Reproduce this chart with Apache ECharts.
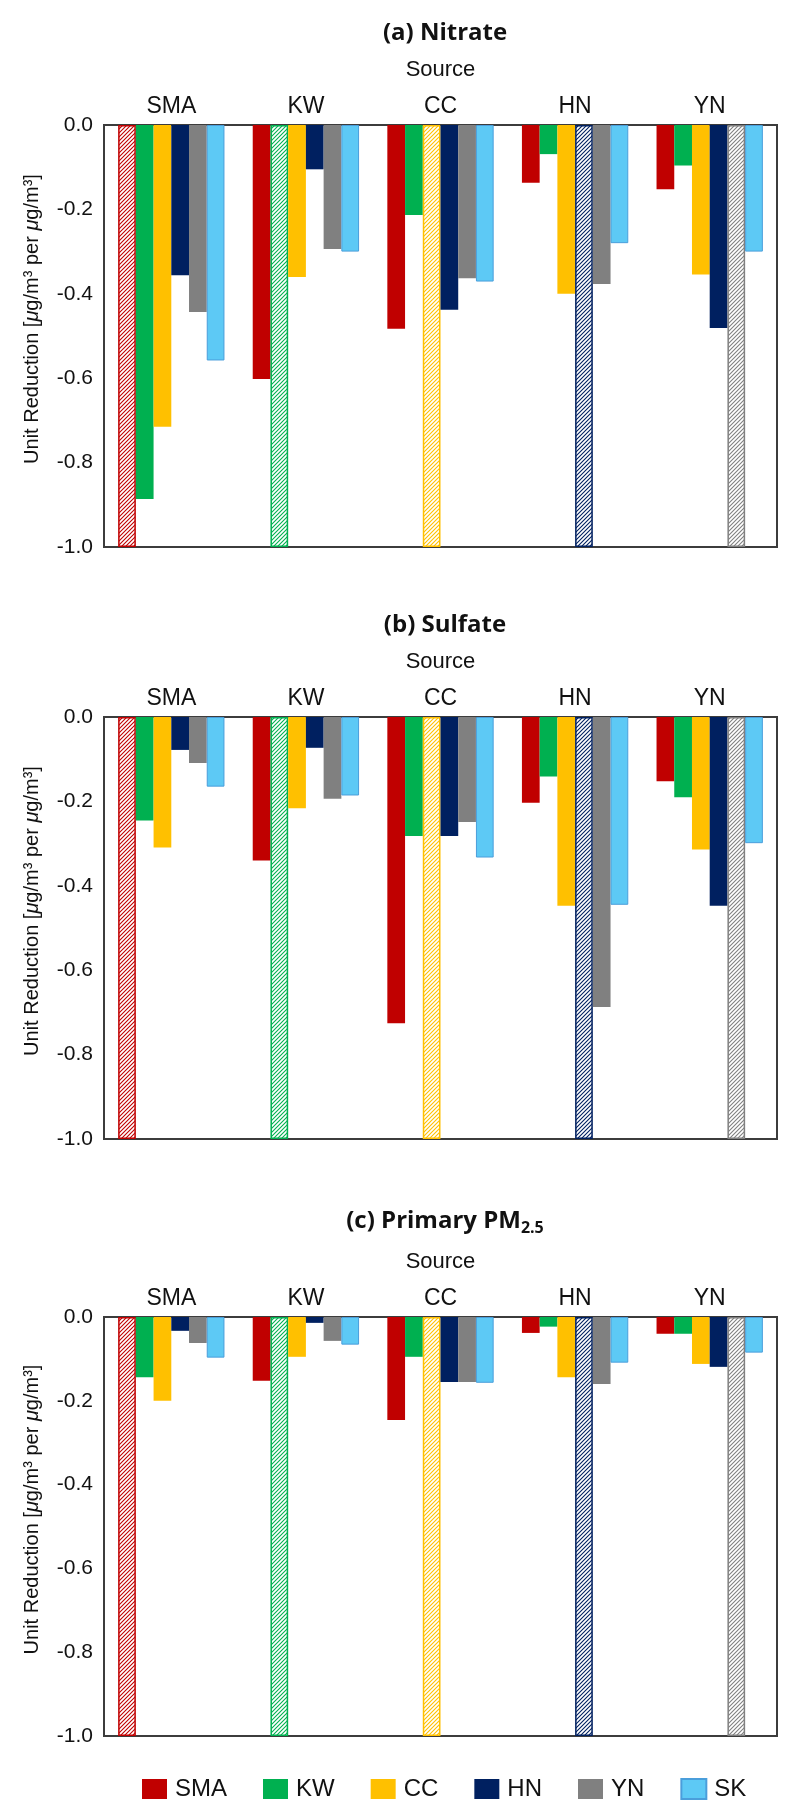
<!DOCTYPE html>
<html>
<head>
<meta charset="utf-8">
<script src="https://cdn.jsdelivr.net/npm/echarts@6/dist/echarts.min.js"></script>
<style>
  html, body { margin: 0; padding: 0; background: #fff; }
  #main { width: 800px; height: 1816px; }
</style>
</head>
<body>
<div id="main"></div>
<script>
// receptor regions (x categories) and source regions (series)
var categories = ['SMA', 'KW', 'CC', 'HN', 'YN'];
var sources = ['SMA', 'KW', 'CC', 'HN', 'YN', 'SK'];
var colors = ['#C00000', '#00B050', '#FFC000', '#002060', '#808080', '#5DC9F5'];
var yTicks = [0, -0.2, -0.4, -0.6, -0.8, -1.0];

// one row per source, values across categories
var nitrate = [
  [-1, -0.602, -0.483, -0.137, -0.152],
  [-0.886, -1, -0.213, -0.069, -0.096],
  [-0.715, -0.360, -1, -0.400, -0.354],
  [-0.356, -0.105, -0.438, -1, -0.481],
  [-0.443, -0.294, -0.363, -0.377, -1],
  [-0.558, -0.300, -0.371, -0.280, -0.300]
];
var sulfate = [
  [-1, -0.340, -0.726, -0.203, -0.152],
  [-0.245, -1, -0.282, -0.141, -0.190],
  [-0.309, -0.216, -1, -0.447, -0.314],
  [-0.078, -0.073, -0.282, -1, -0.447],
  [-0.109, -0.194, -0.249, -0.687, -1],
  [-0.165, -0.186, -0.333, -0.445, -0.299]
];
var primary = [
  [-1, -0.152, -0.246, -0.038, -0.040],
  [-0.144, -1, -0.095, -0.023, -0.040],
  [-0.200, -0.095, -1, -0.144, -0.112],
  [-0.033, -0.014, -0.155, -1, -0.119],
  [-0.062, -0.057, -0.155, -0.160, -1],
  [-0.097, -0.066, -0.157, -0.109, -0.085]
];

var panels = [
  { title: '(a) Nitrate', data: nitrate, top: 125, height: 422, titleTop: 16 },
  { title: '(b) Sulfate', data: sulfate, top: 717, height: 422, titleTop: 608 },
  { title: '{b|(c) Primary PM}{s|2.5}', data: primary, top: 1317, height: 419, titleTop: 1201 }
];

function makeHatch(color) {
  var c = document.createElement('canvas');
  c.width = 4; c.height = 4;
  var ctx = c.getContext('2d');
  ctx.fillStyle = '#fff';
  ctx.fillRect(0, 0, 4, 4);
  ctx.strokeStyle = color;
  ctx.lineWidth = 1.1;
  ctx.beginPath();
  ctx.moveTo(0, 4); ctx.lineTo(4, 0);
  ctx.moveTo(-1, 1); ctx.lineTo(1, -1);
  ctx.moveTo(3, 5); ctx.lineTo(5, 3);
  ctx.stroke();
  return c;
}

var chart = echarts.init(document.getElementById('main'));

var titles = [], grids = [], xAxes = [], yAxes = [], series = [];

panels.forEach(function (p, pi) {
  titles.push({
    text: p.title,
    left: 440,
    top: p.titleTop,
    textAlign: 'center',
    textStyle: {
      fontFamily: 'Open Sans', fontWeight: 'bold', fontSize: 24, color: '#111',
      rich: {
        b: { fontFamily: 'Open Sans', fontWeight: 'bold', fontSize: 24, color: '#111', lineHeight: 30 },
        s: { fontFamily: 'Open Sans', fontWeight: 'bold', fontSize: 16, color: '#111', lineHeight: 30, padding: [14, 0, 0, 0] }
      }
    }
  });
  grids.push({
    left: 104, right: 23, top: p.top, height: p.height,
    show: true, borderColor: '#3c3c3c', borderWidth: 2, backgroundColor: '#fff'
  });
  xAxes.push({
    type: 'category', gridIndex: pi, position: 'top', data: categories,
    name: 'Source', nameLocation: 'middle', nameGap: 44,
    nameTextStyle: { fontFamily: 'Liberation Sans', fontSize: 22, color: '#111' },
    axisLine: { show: false }, axisTick: { show: false },
    axisLabel: { fontFamily: 'Liberation Sans', fontSize: 23, color: '#111', margin: 7 }
  });
  yAxes.push({
    type: 'value', gridIndex: pi, min: -1, max: 0, interval: 0.2,
    name: '{n|Unit Reduction [}{i|μ}{n|g/m³ per }{i|μ}{n|g/m³]}',
    nameLocation: 'middle', nameGap: 62, nameRotate: 90,
    nameTextStyle: {
      fontFamily: 'Liberation Sans', fontSize: 20, color: '#111',
      padding: [0, 0, 0, 34],
      rich: {
        n: { fontFamily: 'Liberation Sans', fontSize: 20, color: '#111' },
        i: { fontFamily: 'Liberation Sans', fontSize: 20, fontStyle: 'italic', color: '#111' }
      }
    },
    axisLine: { show: false }, axisTick: { show: false }, splitLine: { show: false },
    axisLabel: {
      fontFamily: 'Liberation Sans', fontSize: 21, color: '#111', margin: 11,
      formatter: function (v) { return v.toFixed(1); }
    }
  });
  sources.forEach(function (s, si) {
    var col = colors[si];
    series.push({
      name: s, type: 'bar', xAxisIndex: pi, yAxisIndex: pi,
      barGap: 0, barCategoryGap: '21%',
      itemStyle: si === 5 ? { color: col, borderColor: '#4A9EDB', borderWidth: 1 } : { color: col },
      data: p.data[si].map(function (v, ci) {
        if (ci === si) {
          return {
            value: v,
            itemStyle: { color: { image: makeHatch(col), repeat: 'repeat' }, borderColor: col, borderWidth: 1.5 }
          };
        }
        return v;
      })
    });
  });
});

var option = {
  animation: false,
  backgroundColor: '#fff',
  title: titles,
  grid: grids,
  xAxis: xAxes,
  yAxis: yAxes,
  legend: {
    data: sources,
    left: 137, top: 1772,
    icon: 'rect', itemWidth: 25, itemHeight: 20, itemGap: 36,
    textStyle: { fontFamily: 'Liberation Sans', fontSize: 24, color: '#111', padding: [0, 0, 0, 3] }
  },
  series: series
};

chart.setOption(option);
</script>
</body>
</html>
